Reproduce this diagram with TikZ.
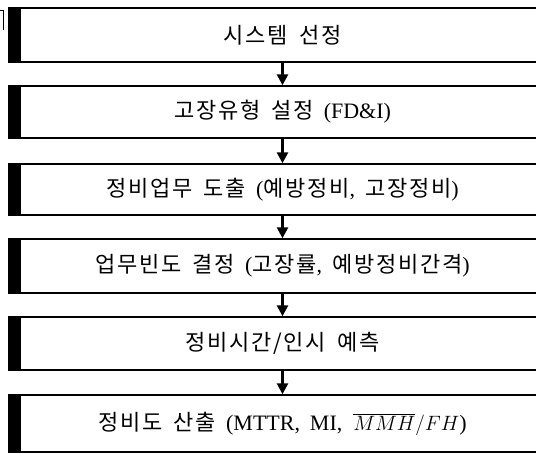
\documentclass[tikz,border=0pt]{standalone}
\usepackage{fontspec}
\setmainfont{Liberation Serif}[WordSpace=1.8]
\newfontfamily\kr{Noto Sans CJK KR}[LetterSpace=8, WordSpace=1.7]
\usetikzlibrary{arrows.meta}
\tikzset{
  stepbox/.style={draw, line width=1.4pt, rectangle, minimum width=525pt, inner sep=0pt,
    font=\fontsize{22}{26}\selectfont},
  flowarrow/.style={line width=2.6pt, -{Triangle[width=11pt,length=11pt]}},
  sidebar/.style={fill=black}
}
\begin{document}
\begin{tikzpicture}[x=1pt,y=1pt]
\useasboundingbox (0,0) rectangle (536,-454);
\clip (0,0) rectangle (536,-454);
\node[stepbox, minimum height=54pt] (b1) at (282.5,-35) {\kr 시스템 선정};
\node[stepbox, minimum height=52pt] (b2) at (282.5,-112) {{\kr 고장유형 설정} (FD\&I)};
\node[stepbox, minimum height=51pt] (b3) at (282.5,-189.5) {{\kr 정비업무 도출} ({\kr 예방정비}, {\kr 고장정비})};
\node[stepbox, minimum height=54pt] (b4) at (282.5,-266) {{\kr 업무빈도 결정} ({\kr 고장률}, {\kr 예방정비간격})};
\node[stepbox, minimum height=53pt] (b5) at (282.5,-343.5) {\kr 정비시간/인시 예측};
\node[stepbox, minimum height=57pt] (b6) at (282.5,-423.5) {{\kr 정비도 산출} (MTTR, MI,\enspace $\overline{MMH}/FH$)};
\foreach \b in {b1,b2,b3,b4,b5,b6}{
  \fill[sidebar] ([xshift=-11pt]\b.north west) rectangle ([xshift=0.7pt]\b.south west);
}
\draw[flowarrow] (b1.south) -- (b2.north);
\draw[flowarrow] (b2.south) -- (b3.north);
\draw[flowarrow] (b3.south) -- (b4.north);
\draw[flowarrow] (b4.south) -- (b5.north);
\draw[flowarrow] (b5.south) -- (b6.north);
\draw[line width=0.8pt] (0,-10) -- (3,-10) -- (3,-30);
\end{tikzpicture}
\end{document}
